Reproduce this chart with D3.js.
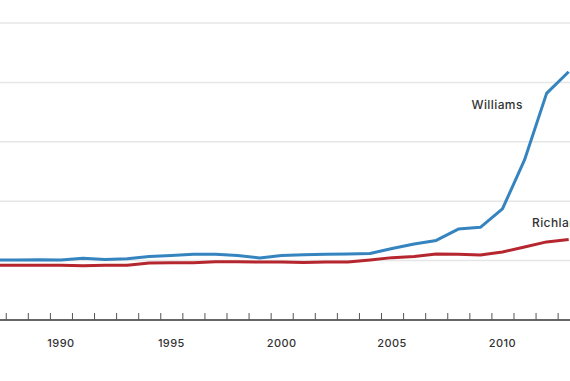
<!DOCTYPE html>
<html lang="en">
    <head>
        <meta charset="utf-8">
        <title>Williams and Richland</title>
        <script src="https://d3js.org/d3.v7.min.js"></script>
        <style>
            body { margin: 0; background: #fff; }
            svg { display: block; }
            text { font-family: Inter, "Open Sans", sans-serif; fill: #333; }
        </style>
    </head>
    <body>
        <script type="text/javascript">
        'use strict';

        //data
        var years = [1987, 1988, 1989, 1990, 1991, 1992, 1993, 1994, 1995, 1996,
            1997, 1998, 1999, 2000, 2001, 2002, 2003, 2004, 2005, 2006,
            2007, 2008, 2009, 2010, 2011, 2012, 2013];
        var williams = [20.2, 20.2, 20.3, 20.2, 20.8, 20.4, 20.6, 21.4, 21.7, 22.1,
            22.1, 21.7, 20.9, 21.7, 22.0, 22.1, 22.2, 22.4, 24.1, 25.6,
            26.8, 30.6, 31.2, 37.4, 53.9, 76.3, 83.6];
        var richland = [18.4, 18.4, 18.4, 18.4, 18.3, 18.4, 18.4, 19.2, 19.3, 19.3,
            19.6, 19.6, 19.5, 19.5, 19.4, 19.5, 19.5, 20.2, 21.0, 21.4,
            22.2, 22.1, 21.9, 22.9, 24.6, 26.3, 27.1];
        var gridValues = [20, 40, 60, 80, 100];
        var labelYears = [1990, 1995, 2000, 2005, 2010];

        var w = 570;
        var h = 381;

        var xScale = d3.scaleLinear()
            .domain([1987.24, 2013.06])
            .range([0, w]);
        var yScale = d3.scaleLinear()
            .domain([0, 100])
            .range([320, 23]);

        var svg = d3.select("body")
                    .append("svg")
                    .attr("width", w)
                    .attr("height", h);

        //grid
        svg.selectAll("line.grid")
            .data(gridValues)
            .enter()
            .append("line")
            .attr("class", "grid")
            .attr("x1", 0)
            .attr("x2", w)
            .attr("y1", function(d){ return yScale(d); })
            .attr("y2", function(d){ return yScale(d); })
            .attr("stroke", "#e6e6e6")
            .attr("stroke-width", 1.5);

        //year ticks at year boundaries
        var tickYears = d3.range(1987, 2014).map(function(d){ return d - 0.5; });
        var axis = d3.axisBottom(xScale)
            .tickValues(tickYears)
            .tickSize(-7)
            .tickSizeOuter(0)
            .tickFormat("");
        var gAxis = svg.append("g")
            .attr("transform", "translate(0," + yScale(0) + ")")
            .call(axis);
        gAxis.select(".domain")
            .attr("stroke", "#333")
            .attr("stroke-width", 1.5)
            .attr("d", "M-10,0H" + (w + 10));
        gAxis.selectAll(".tick line")
            .attr("stroke", "#555");

        svg.selectAll("text.year")
            .data(labelYears)
            .enter()
            .append("text")
            .attr("class", "year")
            .attr("x", function(d){ return xScale(d); })
            .attr("y", 347)
            .attr("text-anchor", "middle")
            .attr("font-size", "11px")
            .attr("font-weight", 500)
            .attr("letter-spacing", "0.4px")
            .text(function(d){ return d; });

        //lines
        var line = d3.line()
            .x(function(d, i){ return xScale(years[i]); })
            .y(function(d){ return yScale(d); });

        svg.append("path")
            .datum(richland)
            .attr("d", line)
            .attr("fill", "none")
            .attr("stroke", "#b5262e")
            .attr("stroke-width", 3)
            .attr("stroke-linejoin", "round");

        svg.append("path")
            .datum(williams)
            .attr("d", line)
            .attr("fill", "none")
            .attr("stroke", "#3584bf")
            .attr("stroke-width", 3)
            .attr("stroke-linejoin", "round");

        //labels (Richland runs off the right edge, as in the source)
        svg.append("text")
            .attr("x", 471.5)
            .attr("y", 109)
            .attr("font-size", "12px")
            .attr("font-weight", 500)
            .attr("letter-spacing", "0.4px")
            .text("Williams");
        svg.append("text")
            .attr("x", 532)
            .attr("y", 227)
            .attr("font-size", "12px")
            .attr("font-weight", 500)
            .attr("letter-spacing", "0.4px")
            .text("Richland");
        </script>
    </body>
</html>
